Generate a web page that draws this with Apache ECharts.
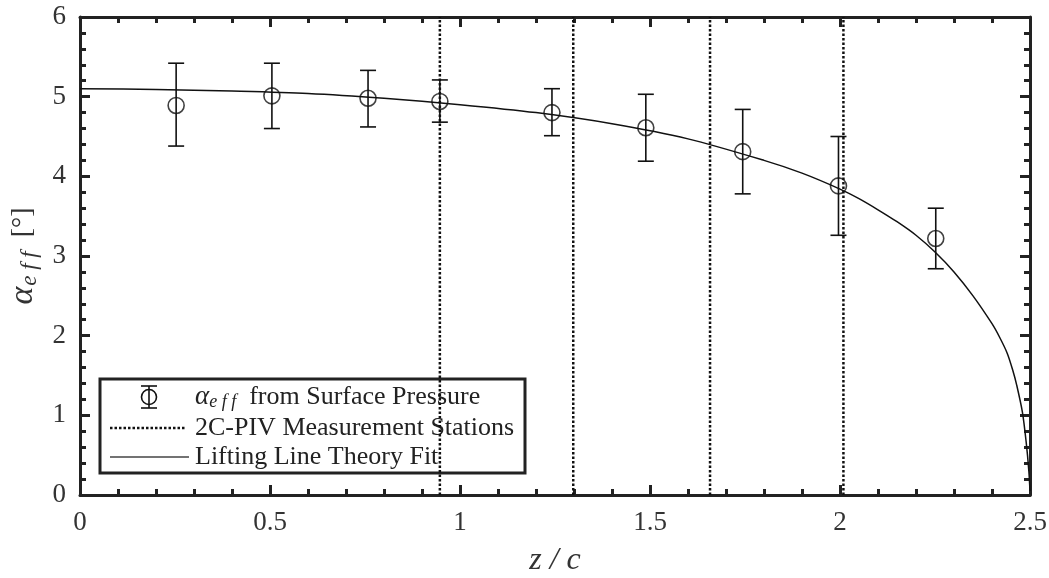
<!DOCTYPE html>
<html>
<head>
<meta charset="utf-8">
<script src="https://cdn.jsdelivr.net/npm/echarts@6/dist/echarts.min.js"></script>
<style>
  html, body { margin: 0; padding: 0; background: #fff; }
  #chart { width: 1049px; height: 578px; }
</style>
</head>
<body>
<div id="chart"></div>
<script>
// measured points (alpha_eff from surface pressure)
const zPts = [0.253, 0.505, 0.758, 0.947, 1.242, 1.489, 1.744, 1.996, 2.252];
const alphaPts = [4.89, 5.01, 4.98, 4.94, 4.80, 4.61, 4.31, 3.88, 3.22];
const errHi = [5.42, 5.42, 5.33, 5.21, 5.10, 5.03, 4.84, 4.50, 3.60];
const errLo = [4.38, 4.60, 4.62, 4.68, 4.51, 4.19, 3.78, 3.26, 2.84];

// 2C-PIV stations
const stations = [0.947, 1.298, 1.658, 2.009];

// lifting line fit
const fitZ = [0, 0.2, 0.4, 0.6, 0.8, 1.0, 1.2, 1.4, 1.6, 1.8, 1.9, 2.0, 2.05, 2.1, 2.15, 2.2, 2.25, 2.3, 2.35, 2.4, 2.42, 2.44, 2.455, 2.465, 2.48, 2.49, 2.497, 2.5];
const fitAlpha = [5.10, 5.09, 5.07, 5.04, 4.98, 4.90, 4.80, 4.66, 4.47, 4.20, 4.04, 3.84, 3.72, 3.58, 3.43, 3.26, 3.05, 2.80, 2.50, 2.15, 1.98, 1.78, 1.56, 1.38, 1.04, 0.66, 0.30, 0.05];

const FONT = "'Liberation Serif', 'DejaVu Serif', serif";
const INK = "#222";

const chart = echarts.init(document.getElementById("chart"));

function axisBase(extra) {
  return Object.assign({
    type: "value",
    axisLine: { show: true, onZero: false, lineStyle: { color: INK, width: 3 } },
    axisTick: { show: true, inside: true, length: 10, lineStyle: { color: INK, width: 3 } },
    minorTick: { show: true, splitNumber: 5, length: 6, lineStyle: { color: INK, width: 3 } },
    splitLine: { show: false },
    minorSplitLine: { show: false }
  }, extra);
}

const lblStyle = { fontFamily: FONT, fontSize: 27, color: "#333" };

chart.setOption({
  animation: false,
  grid: { left: 80, right: 19, top: 17, bottom: 83, containLabel: false, outerBoundsMode: "none" },
  xAxis: [
    axisBase({
      min: 0, max: 2.5, interval: 0.5, position: "bottom",
      axisLabel: Object.assign({ margin: 14 }, lblStyle),
      name: "z / c",
      nameLocation: "middle",
      nameGap: 50,
      nameTextStyle: { fontFamily: FONT, fontSize: 32, fontStyle: "italic", color: "#333" }
    }),
    axisBase({
      min: 0, max: 2.5, interval: 0.5, position: "top",
      axisLabel: { show: false }
    })
  ],
  yAxis: [
    axisBase({
      min: 0, max: 6, interval: 1, position: "left",
      axisLabel: Object.assign({ margin: 14 }, lblStyle),
      name: "{a|α}{s|e f f}{n|  [°]}",
      nameLocation: "middle",
      nameGap: 38,
      nameRotate: 90,
      nameTextStyle: {
        color: "#333",
        rich: {
          a: { fontFamily: FONT, fontSize: 34, fontStyle: "italic", color: "#333" },
          s: { fontFamily: FONT, fontSize: 23, fontStyle: "italic", color: "#333", padding: [14, 0, 0, 1] },
          n: { fontFamily: FONT, fontSize: 28, color: "#333" }
        }
      }
    }),
    axisBase({
      min: 0, max: 6, interval: 1, position: "right",
      axisLabel: { show: false }
    })
  ],
  series: [
    {
      name: "Lifting Line Theory Fit",
      type: "line",
      data: fitZ.map((z, i) => [z, fitAlpha[i]]),
      smooth: 0.3,
      showSymbol: false,
      symbol: "none",
      lineStyle: { color: "#111", width: 1.5 },
      z: 3
    },
    ...stations.map(s => ({
      name: "2C-PIV Measurement Stations",
      type: "line",
      data: [[s, 0], [s, 6]],
      symbol: "none",
      lineStyle: { color: "#111", width: 2.5, type: [2.5, 2] },
      z: 2
    })),
    {
      name: "errbars",
      type: "custom",
      data: zPts.map((z, i) => [z, alphaPts[i], errLo[i], errHi[i]]),
      renderItem: function (params, api) {
        const top = api.coord([api.value(0), api.value(3)]);
        const bot = api.coord([api.value(0), api.value(2)]);
        const w = 8;
        const st = { stroke: "#111", lineWidth: 1.6 };
        return {
          type: "group",
          children: [
            { type: "line", shape: { x1: top[0], y1: top[1], x2: bot[0], y2: bot[1] }, style: st },
            { type: "line", shape: { x1: top[0] - w, y1: top[1], x2: top[0] + w, y2: top[1] }, style: st },
            { type: "line", shape: { x1: bot[0] - w, y1: bot[1], x2: bot[0] + w, y2: bot[1] }, style: st }
          ]
        };
      },
      z: 4
    },
    {
      name: "alpha",
      type: "scatter",
      data: zPts.map((z, i) => [z, alphaPts[i]]),
      symbol: "circle",
      symbolSize: 16,
      itemStyle: { color: "rgba(0,0,0,0)", borderColor: "#111", borderWidth: 1.6 },
      z: 5
    }
  ],
  graphic: [
    {
      type: "group",
      z: 100,
      children: [
        { type: "rect", shape: { x: 100, y: 379, width: 425, height: 94 },
          style: { fill: "#fff", stroke: INK, lineWidth: 3 } },
        // errorbar icon
        { type: "line", shape: { x1: 149, y1: 386, x2: 149, y2: 408 }, style: { stroke: "#111", lineWidth: 1.6 } },
        { type: "line", shape: { x1: 141, y1: 386, x2: 157, y2: 386 }, style: { stroke: "#111", lineWidth: 1.6 } },
        { type: "line", shape: { x1: 141, y1: 408, x2: 157, y2: 408 }, style: { stroke: "#111", lineWidth: 1.6 } },
        { type: "circle", shape: { cx: 149, cy: 397, r: 7.5 }, style: { fill: "none", stroke: "#111", lineWidth: 1.6 } },
        // dotted icon
        { type: "line", shape: { x1: 110, y1: 428, x2: 186, y2: 428 },
          style: { stroke: "#111", lineWidth: 2.5, lineDash: [2.5, 2] } },
        // solid icon
        { type: "line", shape: { x1: 110, y1: 457, x2: 189, y2: 457 }, style: { stroke: "#444", lineWidth: 1.5 } },
        { type: "text", x: 195, y: 397,
          style: {
            text: "{a|α}{s|e f f}{t|  from Surface Pressure}",
            verticalAlign: "middle",
            rich: {
              a: { fontFamily: FONT, fontSize: 27, fontStyle: "italic", fill: "#222" },
              s: { fontFamily: FONT, fontSize: 18, fontStyle: "italic", fill: "#222", padding: [10, 0, 0, 0] },
              t: { fontFamily: FONT, fontSize: 26, fill: "#222" }
            }
          } },
        { type: "text", x: 195, y: 428,
          style: { text: "2C-PIV Measurement Stations", font: "26px " + FONT, fill: "#222", verticalAlign: "middle" } },
        { type: "text", x: 195, y: 457,
          style: { text: "Lifting Line Theory Fit", font: "26px " + FONT, fill: "#222", verticalAlign: "middle" } }
      ]
    }
  ]
});
</script>
</body>
</html>
